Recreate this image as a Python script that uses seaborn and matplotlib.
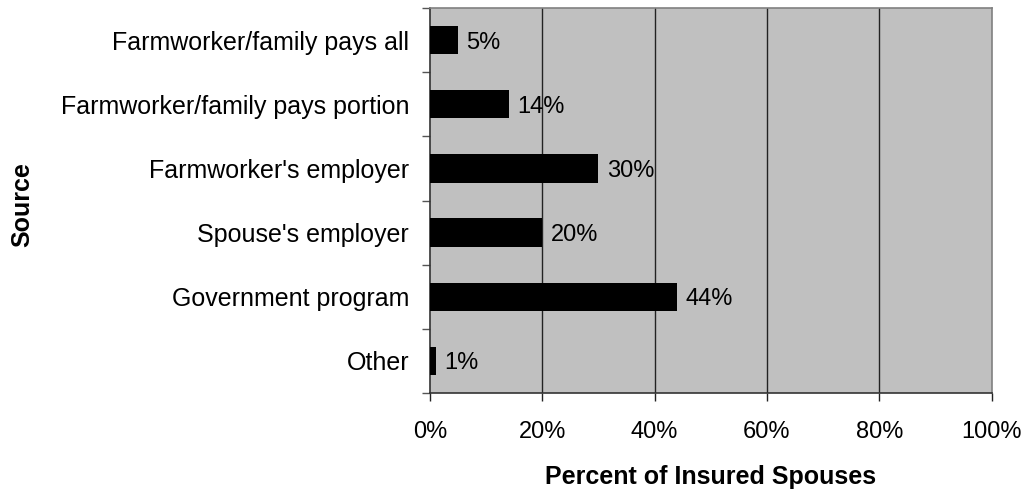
import matplotlib
matplotlib.use("Agg")
import matplotlib.pyplot as plt
import seaborn as sns
import pandas as pd

sources = [
    "Farmworker/family pays all",
    "Farmworker/family pays portion",
    "Farmworker's employer",
    "Spouse's employer",
    "Government program",
    "Other",
]
percents = [5, 14, 30, 20, 44, 1]
x_ticks = [0, 20, 40, 60, 80, 100]
x_tick_labels = ["0%", "20%", "40%", "60%", "80%", "100%"]

df = pd.DataFrame({"Source": sources, "Percent": percents})

sns.set_theme(style="white")
plt.rcParams["font.family"] = ["Liberation Sans", "DejaVu Sans"]
plt.rcParams["text.color"] = "black"
plt.rcParams["xtick.color"] = "black"
plt.rcParams["ytick.color"] = "black"
plt.rcParams["axes.labelcolor"] = "black"

FS = 17

fig = plt.figure(figsize=(10.27, 4.93), dpi=100)
ax = fig.add_axes([430 / 1027, 1 - 393 / 493, 561.5 / 1027, 385 / 493])

sns.barplot(data=df, x="Percent", y="Source", color="black", width=0.44,
            saturation=1, linewidth=0, ax=ax, zorder=3)

ax.set_facecolor("#C0C0C0")
ax.set_xlim(0, 100)
ax.set_ylim(len(sources) - 0.5, -0.5)
ax.set_xticks(x_ticks)
ax.set_xticklabels(x_tick_labels, fontsize=FS)
ax.tick_params(axis="y", which="major", length=0, labelsize=18, pad=15)
ax.set_yticks([i - 0.5 for i in range(len(sources) + 1)], minor=True)
ax.tick_params(axis="y", which="minor", length=6, width=1, color="#555555",
               direction="out", left=True)
ax.tick_params(axis="x", length=6, width=1, color="#222222", direction="out",
               bottom=True, pad=14)

ax.grid(False)
for x in x_ticks[1:-1]:
    ax.axvline(x, color="#222222", linewidth=1, zorder=1)

for side in ["top", "right"]:
    ax.spines[side].set_color("#808080")
    ax.spines[side].set_linewidth(1.2)
for side in ["left", "bottom"]:
    ax.spines[side].set_color("#333333")
    ax.spines[side].set_linewidth(1.2)

for i, v in enumerate(percents):
    ax.annotate(f"{v}%", xy=(v, i), xytext=(6, 0), textcoords="offset points",
                va="center_baseline", ha="left", fontsize=FS, color="black",
                zorder=4)

ax.set_ylabel("Source", fontsize=18, fontweight="bold", va="center")
ax.set_xlabel("Percent of Insured Spouses", fontsize=18, fontweight="bold",
              va="center")
ax.yaxis.set_label_coords(-0.7266, 0.49)
ax.xaxis.set_label_coords(0.5, -0.218)

fig.savefig("out.png", dpi=100)
